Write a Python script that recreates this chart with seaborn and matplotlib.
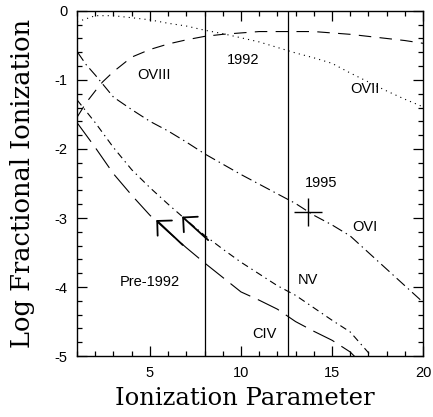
import numpy as np
import pandas as pd
import matplotlib
matplotlib.use("Agg")
import matplotlib.pyplot as plt
import seaborn as sns

# curve values (log fractional ionization vs U)
ovii_x = [1, 2, 3, 4, 5, 6, 7, 8, 9, 10, 11, 12, 13, 14, 15, 16, 17, 18, 19, 20]
ovii_y = [-0.16, -0.07, -0.07, -0.10, -0.13, -0.18, -0.22, -0.28, -0.33, -0.39,
          -0.45, -0.53, -0.61, -0.68, -0.76, -0.90, -1.03, -1.16, -1.28, -1.39]

oviii_x = [1, 1.5, 2, 2.4, 3, 4, 5, 6, 7, 8, 9, 10, 11, 12, 13, 14, 15, 16, 17, 18, 19, 20]
oviii_y = [-1.54, -1.33, -1.16, -1.03, -0.88, -0.67, -0.56, -0.48, -0.42, -0.37, -0.34,
           -0.32, -0.30, -0.30, -0.30, -0.30, -0.32, -0.34, -0.37, -0.40, -0.43, -0.47]

ovi_x = [1, 1.5, 2, 3, 4, 5, 6, 7, 8, 9, 10, 11, 12, 13, 14, 15, 16, 17, 18, 19, 20]
ovi_y = [-0.59, -0.78, -0.93, -1.25, -1.43, -1.60, -1.74, -1.90, -2.07, -2.22, -2.37,
         -2.51, -2.65, -2.79, -2.96, -3.10, -3.26, -3.50, -3.74, -3.98, -4.22]

nv_x = [1, 2, 3, 4, 5, 6, 7, 8, 9, 10, 11, 12, 13, 14, 15, 16, 17, 17.4]
nv_y = [-1.29, -1.62, -1.98, -2.30, -2.56, -2.80, -3.03, -3.25, -3.45, -3.64, -3.81,
        -3.98, -4.12, -4.30, -4.48, -4.65, -4.95, -5.10]

civ_x = [1, 2, 3, 4, 5, 6, 7, 8, 9, 10, 11, 12, 13, 14, 15, 16, 16.6]
civ_y = [-1.62, -1.98, -2.36, -2.67, -2.96, -3.20, -3.43, -3.65, -3.86, -4.07, -4.19,
         -4.32, -4.50, -4.64, -4.77, -4.94, -5.10]

epochs_x = [8.0, 12.6]          # 1992 and 1995 observations
cross_x, cross_y = [13.7], [-2.91]

# arrows (tail -> head) along CIV and NV
arrow_tail_x = [6.8, 8.2]
arrow_tail_y = [-3.39, -3.32]
arrow_head_x = [5.35, 6.77]
arrow_head_y = [-3.03, -2.98]

labels = ["OVIII", "1992", "OVII", "1995", "OVI", "NV", "Pre-1992", "CIV"]
label_x = [5.2, 10.1, 16.8, 14.4, 16.8, 13.7, 5.0, 11.3]
label_y = [-0.93, -0.71, -1.13, -2.5, -3.13, -3.9, -3.93, -4.68]

sns.set_style("ticks")
plt.rcParams['font.family'] = ['Liberation Sans', 'DejaVu Sans']
plt.rcParams['axes.unicode_minus'] = False
plt.rcParams['lines.scale_dashes'] = False
plt.rcParams['text.color'] = 'black'

fig = plt.figure(figsize=(4.33, 4.17), dpi=100)
ax = fig.add_axes([0.178, 0.146, 0.799, 0.828])

curves = [
    (ovii_x, ovii_y, (0, (0.8, 3.0))),
    (oviii_x, oviii_y, (0, (9, 6))),
    (ovi_x, ovi_y, (0, (8, 3, 1, 3))),
    (nv_x, nv_y, (0, (5, 3, 1, 3))),
    (civ_x, civ_y, (0, (17, 6))),
]
for xs, ys, ls in curves:
    df = pd.DataFrame({"U": xs, "logf": ys})
    sns.lineplot(data=df, x="U", y="logf", ax=ax, color="black",
                 linewidth=0.8, linestyle=ls)

for xv in epochs_x:
    ax.axvline(xv, color="black", linewidth=0.9)

sns.scatterplot(x=cross_x, y=cross_y, ax=ax, marker="+", s=380,
                color="black", linewidth=1.0)

for tx, ty, hx, hy in zip(arrow_tail_x, arrow_tail_y, arrow_head_x, arrow_head_y):
    ax.annotate("", xy=(hx, hy), xytext=(tx, ty),
                arrowprops=dict(arrowstyle="->,head_length=0.75,head_width=0.75",
                                color="black", lw=1.3, shrinkA=0, shrinkB=0))

for t, x, y in zip(labels, label_x, label_y):
    ax.text(x, y, t, fontsize=10.5, ha="center", va="center", color="black")

ax.set_xlim(1, 20)
ax.set_ylim(-5, 0)
ax.set_xticks([5, 10, 15, 20])
ax.set_xticks(np.arange(1, 21, 1), minor=True)
ax.set_yticks([0, -1, -2, -3, -4, -5])
ax.set_yticks(np.arange(-5, 0.01, 0.2), minor=True)
ax.set_yticklabels(["0", "-1", "-2", "-3", "-4", "-5"])
ax.tick_params(which="both", direction="in", top=True, right=True,
               labelsize=10.5, width=0.9, colors="black")
ax.tick_params(which="major", length=7, pad=7)
ax.tick_params(which="minor", length=3.5)
for sp in ax.spines.values():
    sp.set_linewidth(1.0)
    sp.set_color("black")
ax.set_xlabel("")
ax.set_ylabel("")

# axis titles in a wide serif, placed like the original
fig.text(0.565, 0.029, "Ionization Parameter", fontsize=17.5,
         family="DejaVu Serif", ha="center", va="baseline")
fig.text(0.069, 0.561, "Log Fractional Ionization", fontsize=18.5,
         family="DejaVu Serif", ha="center", va="baseline",
         rotation=90, rotation_mode="anchor")

fig.savefig("out.png", dpi=100)
